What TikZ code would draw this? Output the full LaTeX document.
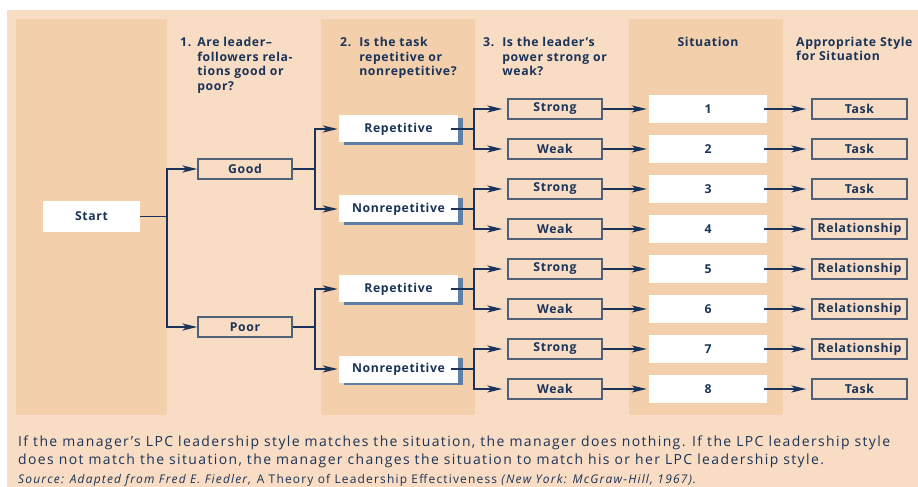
\documentclass[tikz,border=0pt]{standalone}
\usepackage{fontspec}
\setmainfont{Open Sans}
\newfontfamily\notefont{Open Sans}[LetterSpace=10]
\newfontfamily\labfont{Open Sans}[LetterSpace=5]
\usetikzlibrary{arrows.meta,shadows}

\definecolor{panel}{HTML}{F8DCC3}
\definecolor{band}{HTML}{F4CFAB}
\definecolor{navy}{HTML}{1A3358}
\definecolor{frame}{HTML}{4E6179}
\definecolor{shade}{HTML}{5E7FA6}

\tikzset{
  head/.style={anchor=north west, inner sep=0pt, align=left,
    font=\labfont\bfseries\fontsize{12.3}{14.6}\selectfont},
  outbox/.style={draw=frame, line width=1.3bp, minimum width=94bp,
    minimum height=20bp, inner sep=0pt, font=\labfont\bfseries\fontsize{12.3}{12}\selectfont},
  whitebox/.style={fill=white, inner sep=0pt, font=\labfont\bfseries\fontsize{12.3}{12}\selectfont},
  taskbox/.style={whitebox, minimum width=119bp, minimum height=27bp,
    drop shadow={shadow xshift=5bp, shadow yshift=-2.5bp, fill=shade, opacity=1}},
  sitbox/.style={whitebox, minimum width=118bp, minimum height=28bp},
  link/.style={draw=navy, line width=1.8bp},
  arr/.style={link, -{Stealth[length=15bp, width=7bp, inset=4bp]}},
  note/.style={anchor=base west, inner sep=0pt, font=\notefont\fontsize{14}{16}\selectfont},
}

\begin{document}
\begin{tikzpicture}[x=1bp, y=-1bp, text=navy]
\useasboundingbox (0,0) rectangle (918,487);

% background panel and the three shaded columns
\fill[panel] (7,10) rectangle (918,487);
\fill[band] (16,19) rectangle (167,415);
\fill[band] (321,19) rectangle (475,415);
\fill[band] (629,19) rectangle (783,415);

% column headings
\node[head] (h1) at (180,36.5) {\begin{tabular}{@{}l@{\hspace{6bp}}l@{}}1. & Are leader–\\ & followers rela-\\ & tions good or\\ & poor?\end{tabular}};
\node[head] (h2) at (340,36.5) {\begin{tabular}{@{}l@{\hspace{8bp}}l@{}}2. & Is the task\\ & repetitive or\\ & nonrepetitive?\end{tabular}};
\node[head] (h3) at (483,36.5) {\begin{tabular}{@{}l@{\hspace{8bp}}l@{}}3. & Is the leader’s\\ & power strong or\\ & weak?\end{tabular}};
\node[head, anchor=north] (h4) at (708,36.5) {Situation};
\node[head] (h5) at (796,36.5) {Appropriate Style\\for Situation};

% start and leader-follower relations
\node[whitebox, minimum width=97bp, minimum height=31bp] (start) at (91.5,216.5) {Start};
\node[outbox] (good) at (245,169) {Good};
\node[outbox] (poor) at (245,327) {Poor};

% task structure
\node[taskbox] (rep1) at (398.5,129) {Repetitive};
\node[taskbox] (non1) at (398.5,209) {Nonrepetitive};
\node[taskbox] (rep2) at (398.5,289) {Repetitive};
\node[taskbox] (non2) at (398.5,369) {Nonrepetitive};

% position power, situations and styles
\foreach \i/\p/\s in {1/Strong/Task, 2/Weak/Task, 3/Strong/Task, 4/Weak/Relationship,
                      5/Strong/Relationship, 6/Weak/Relationship, 7/Strong/Relationship, 8/Weak/Task} {
  \pgfmathsetmacro{\yy}{109+40*(\i-1)}
  \node[outbox] (pw\i) at (555,\yy) {\p};
  \node[sitbox] (sit\i) at (708,\yy) {\i};
  \node[outbox, minimum width=95bp] (sty\i) at (859.5,\yy) {\s};
  \draw[arr, shorten >=2bp] (pw\i.east) -- (sit\i.west);
  \draw[arr, shorten >=5bp] ([xshift=-3bp]sit\i.east) -- (sty\i.west);
}

% branching connectors
\coordinate (j0) at (167,216.5);
\draw[link] (start.east) -- (j0);
\draw[arr] (j0) |- (good.west);
\draw[arr] (j0) |- (poor.west);

\coordinate (j1) at (315,169);
\draw[link] (good.east) -- (j1);
\draw[arr, shorten >=1bp] (j1) |- (rep1.west);
\draw[arr, shorten >=1bp] (j1) |- (non1.west);

\coordinate (j2) at (315,327);
\draw[link] (poor.east) -- (j2);
\draw[arr, shorten >=1bp] (j2) |- (rep2.west);
\draw[arr, shorten >=1bp] (j2) |- (non2.west);

\foreach \t/\a/\b in {rep1/1/2, non1/3/4, rep2/5/6, non2/7/8} {
  \coordinate (k\a) at (474,0 |- \t.center);
  \draw[link] ([xshift=-7bp]\t.east) -- (k\a);
  \draw[arr, shorten >=5bp] (k\a) |- (pw\a.west);
  \draw[arr, shorten >=5bp] (k\a) |- (pw\b.west);
}

% explanatory note and source
\node[note] (n1) at (18,446) {If the manager’s LPC leadership style matches the situation, the manager does nothing. If the LPC leadership style};
\node[note] (n2) at (18,464) {does not match the situation, the manager changes the situation to match his or her LPC leadership style.};
\node[note, font=\notefont\fontsize{12}{12}\selectfont] (src) at (18,483) {\textit{Source: Adapted from Fred E. Fiedler,} A Theory of Leadership Effectiveness \textit{(New York: McGraw-Hill, 1967).}};
\end{tikzpicture}
\end{document}
